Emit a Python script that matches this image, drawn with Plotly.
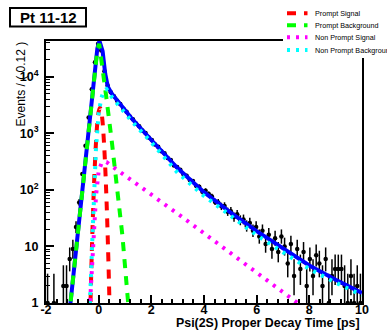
import math
import plotly.graph_objects as go

# ---------------- data ----------------
BIN_LO = -2.0
BIN_W = 0.12
counts = [1, None, 1, None, None, 2, 2, 6, 9, 22,
          60, 190, 600, 1900, 6000, 18000, 38000, 29000, 12500, 7000,
          5300, 4520, 3760, 3290, 2710, 2390, 1985, 1760, 1480, 1330,
          1120, 1010, 842, 760, 631, 575, 481, 441, 365, 336,
          270, 252, 226, 187, 178, 149, 143, 118, 113, 92,
          96, 84, 76, 61, 60, 51, 52, 41, 42, 33,
          37, 29, 30, 23, 26, 19, 22, 15, 19, 11,
          16, 9, 14, 8, 15, 10, 5, 11, 3, 9,
          4, 8, 2, 6, 3, 7, 5, 2, 6, 1,
          3, 4, 4, 4, 2, 1, 3, 1, 2, 1]
bin_centers = [round(BIN_LO + BIN_W * (i + 0.5), 2) for i in range(len(counts))]

total_x = [-1.2, -1.07, -0.41, -0.16, -0.05, 0.03, 0.15, 0.25, 0.35, 0.5, 0.8, 1.24,
           2.0, 3.0, 4.0, 5.0, 6.0, 7.0, 8.0, 9.0, 10.0]
total_y = [0.27, 1.0, 794, 12600, 31600, 42700, 28200, 11200, 6610, 5010, 3310, 1860,
           759, 240, 91, 40, 18.6, 9.1, 4.6, 2.57, 1.51]

psig_x = [-0.34, -0.30, -0.25, -0.20, -0.15, -0.10, -0.05, 0.0, 0.05, 0.10, 0.15,
          0.20, 0.25, 0.30, 0.35, 0.40, 0.44]
psig_y = [0.26, 1.6, 11.7, 62, 245, 708, 1550, 2400, 2820, 2400, 1550,
          708, 245, 62, 11.7, 1.6, 0.26]

pbkg_x = [-1.2, -1.07, -0.41, -0.16, -0.05, 0.02, 0.15, 0.3, 0.5, 0.7, 0.9, 1.12, 1.2]
pbkg_y = [0.27, 1.0, 794, 12600, 30200, 38000, 14100, 3980, 708, 89, 15.8, 1.0, 0.45]

npsig_x = [-0.40, -0.32, -0.25, -0.18, -0.10, 0.0, 0.1, 0.2, 0.3, 0.5, 1.24, 3.14, 7.55, 7.8]
npsig_y = [0.25, 1.0, 4.0, 20, 79, 214, 288, 316, 309, 263, 148, 33.9, 1.0, 0.83]

npbkg_x = [-0.40, -0.33, -0.25, -0.18, -0.10, 0.0, 0.1, 0.2, 0.3, 0.4, 0.5, 0.8, 1.24,
           2.0, 3.0, 4.0, 5.0, 6.0, 7.0, 8.0, 9.0, 10.0]
npbkg_y = [0.32, 1.0, 10, 79, 562, 2240, 4170, 5620, 6030, 5250, 4370, 2950, 1660,
           692, 200, 78, 35, 15.8, 7.9, 4.0, 2.29, 1.38]

legend_labels = ["Prompt Signal", "Prompt Background", "Non Prompt Signal", "Non Prompt Background"]
x_ticks = [-2, 0, 2, 4, 6, 8, 10]
y_ticks = [1, 10, 100, 1000, 10000]
y_ticktext = ["1", "10", "10<sup>2</sup>", "10<sup>3</sup>", "10<sup>4</sup>"]


# Poisson 68% central interval (as used for the data error bars)
def pois_cdf(k, mu):
    s = 0.0
    term = math.exp(-mu)
    for i in range(k + 1):
        if i > 0:
            term *= mu / i
        s += term
    return s


def pois_interval(n):
    alpha = 0.158655
    if n > 60:
        r = math.sqrt(n + 0.25)
        return n - (r - 0.5), n + r + 0.5
    lo_a, lo_b = 0.0, float(n)
    for _ in range(60):
        m = 0.5 * (lo_a + lo_b)
        if 1 - pois_cdf(n - 1, m) < alpha:
            lo_a = m
        else:
            lo_b = m
    hi_a, hi_b = float(n), n + 10 * math.sqrt(n) + 10
    for _ in range(60):
        m = 0.5 * (hi_a + hi_b)
        if pois_cdf(n, m) > alpha:
            hi_a = m
        else:
            hi_b = m
    return 0.5 * (lo_a + lo_b), 0.5 * (hi_a + hi_b)


err_lo, err_hi = [], []
for c in counts:
    if c is None:
        err_lo.append(None)
        err_hi.append(None)
    else:
        lo, hi = pois_interval(c)
        err_lo.append(c - lo)
        err_hi.append(hi - c)

# ---------------- layout geometry ----------------
W, H = 387, 333
L, R, T, B = 46, 25, 41, 30


def px(xpix):
    return (xpix - L) / (W - L - R)


def py(ypix):
    return (H - B - ypix) / (H - T - B)


FONT = "Liberation Sans, Arial, Helvetica, sans-serif"
RED, GREEN, MAGENTA, CYAN, BLUE = "#ff0000", "#00ff00", "#ff00ff", "#00ffff", "#0000ff"
DASH = "9px,8px"
DOT = "3px,6px"

fig = go.Figure()

fig.add_trace(go.Scatter(
    x=bin_centers, y=counts, mode="markers",
    marker=dict(color="black", size=4.5),
    error_y=dict(type="data", symmetric=False, array=err_hi, arrayminus=err_lo,
                 color="black", thickness=1.5, width=0),
    error_x=dict(type="constant", value=BIN_W / 2, color="black", thickness=1.5, width=0),
    showlegend=False, hoverinfo="skip"))

fig.add_trace(go.Scatter(x=total_x, y=total_y, mode="lines",
                         line=dict(color=BLUE, width=4), showlegend=False))
fig.add_trace(go.Scatter(x=psig_x, y=psig_y, mode="lines", line_shape="spline",
                         line=dict(color=RED, width=4, dash=DASH), showlegend=False))
fig.add_trace(go.Scatter(x=pbkg_x, y=pbkg_y, mode="lines",
                         line=dict(color=GREEN, width=4, dash=DASH), showlegend=False))
fig.add_trace(go.Scatter(x=npsig_x, y=npsig_y, mode="lines",
                         line=dict(color=MAGENTA, width=4, dash=DOT), showlegend=False))
fig.add_trace(go.Scatter(x=npbkg_x, y=npbkg_y, mode="lines",
                         line=dict(color=CYAN, width=4, dash=DOT), showlegend=False))

minor_y = []
for dec in [1, 10, 100, 1000, 10000]:
    for k in range(2, 10):
        minor_y.append(dec * k)

fig.update_layout(
    width=W, height=H,
    margin=dict(l=L, r=R, t=T, b=B, pad=0, autoexpand=False),
    paper_bgcolor="white", plot_bgcolor="white",
    font=dict(family=FONT, color="black"),
    showlegend=False,
    xaxis=dict(range=[-2, 10], showgrid=False, zeroline=False, automargin=False,
               showline=True, linecolor="black", linewidth=2, mirror=True,
               ticks="inside", ticklen=8, tickwidth=1.5, tickcolor="black",
               tickvals=x_ticks, ticktext=[str(v) for v in x_ticks],
               tickfont=dict(size=12.5, weight="bold"), ticklabelstandoff=-6,
               minor=dict(ticks="inside", ticklen=4, tickwidth=1.5, dtick=0.4,
                          tick0=-2, tickcolor="black", showgrid=False)),
    yaxis=dict(type="log", range=[0, 4.63], showgrid=False, zeroline=False, automargin=False,
               showline=True, linecolor="black", linewidth=2, mirror=True,
               ticks="inside", ticklen=8, tickwidth=1.5, tickcolor="black",
               tickvals=y_ticks, ticktext=y_ticktext,
               tickfont=dict(size=12.5, weight="bold"), ticklabelstandoff=3,
               minor=dict(ticks="inside", ticklen=4, tickwidth=1.2,
                          tickvals=minor_y, tickcolor="black", showgrid=False)),
)

shapes = []
# legend background (covers the frame corner)
shapes.append(dict(type="rect", xref="paper", yref="paper", layer="above",
                   x0=px(283), x1=px(390), y0=py(58), y1=py(-2),
                   line=dict(width=0), fillcolor="white"))
# title box
shapes.append(dict(type="rect", xref="paper", yref="paper", layer="above",
                   x0=px(10), x1=px(86), y0=py(26.5), y1=py(8),
                   line=dict(color="black", width=2), fillcolor="white"))
leg_rows = [13.3, 25.3, 37.3, 50]
leg_colors = [RED, GREEN, MAGENTA, CYAN]
leg_dash = [DASH, DASH, DOT, DOT]
annotations = []
for lab, yrow, col, ds in zip(legend_labels, leg_rows, leg_colors, leg_dash):
    shapes.append(dict(type="line", xref="paper", yref="paper", layer="above",
                       x0=px(287), x1=px(307.5), y0=py(yrow), y1=py(yrow),
                       line=dict(color=col, width=4, dash=ds)))
    annotations.append(dict(xref="paper", yref="paper", x=px(312.5), y=py(yrow),
                            xanchor="left", yanchor="middle", showarrow=False,
                            text=lab, font=dict(size=7.2, family=FONT, color="black")))

annotations.append(dict(xref="paper", yref="paper", x=px(48), y=py(17.3),
                        xanchor="center", yanchor="middle", showarrow=False,
                        text="Pt 11-12", font=dict(size=15, family=FONT, weight="bold")))
annotations.append(dict(xref="paper", yref="paper", x=px(362), y=py(323),
                        xanchor="right", yanchor="middle", showarrow=False,
                        text="Psi(2S) Proper Decay Time [ps]",
                        font=dict(size=12.4, family=FONT, weight="bold")))
annotations.append(dict(xref="paper", yref="paper", x=px(20), y=py(40),
                        xanchor="center", yanchor="top", showarrow=False, textangle=-90,
                        text="Events / ( 0.12 )",
                        font=dict(size=12, family=FONT)))

fig.update_layout(shapes=shapes, annotations=annotations)

fig.write_html("out.html",
               config={"displayModeBar": False},
               post_script="document.body.style.margin='0';document.body.style.overflow='hidden';")
